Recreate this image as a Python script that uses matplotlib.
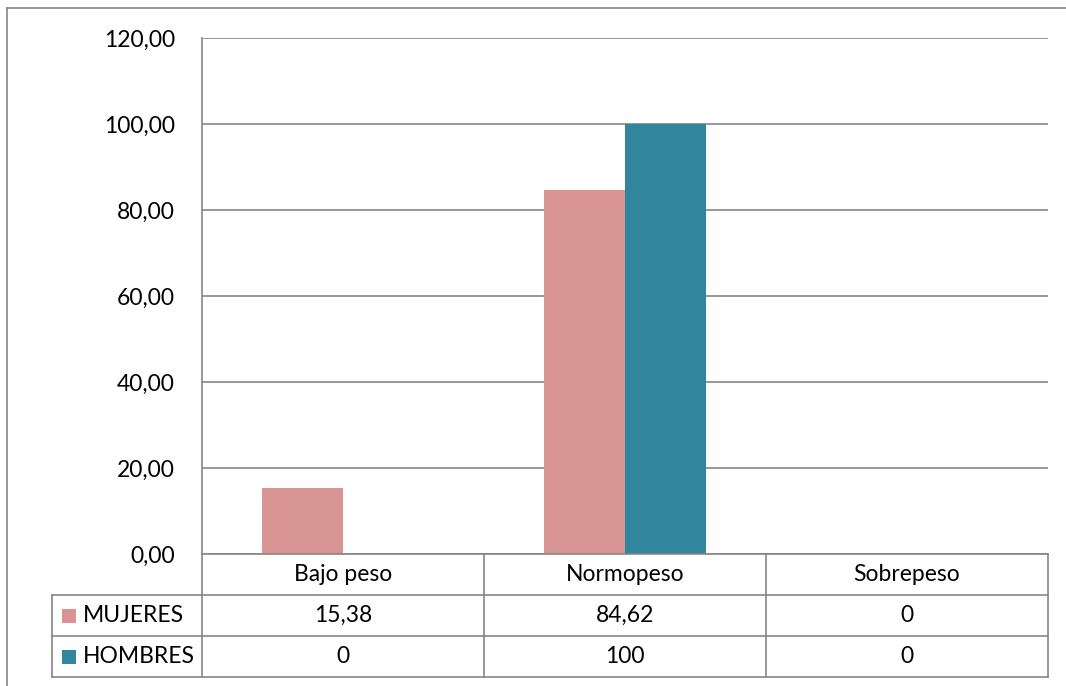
import matplotlib.pyplot as plt
from matplotlib.patches import Rectangle
from matplotlib.lines import Line2D
import matplotlib.transforms as mtransforms

categorias = ['Bajo peso', 'Normopeso', 'Sobrepeso']
mujeres = [15.38, 84.62, 0]
hombres = [0, 100, 0]
mujeres_txt = ['15,38', '84,62', '0']
hombres_txt = ['0', '100', '0']
series = ['MUJERES', 'HOMBRES']
colores = ['#D99594', '#31859C']

plt.rcParams['font.family'] = ['Lato', 'DejaVu Sans']
gris = '#868686'
fs = 16.5

fig = plt.figure(figsize=(10.66, 6.86), dpi=100)
W, H = 1066, 686
ftr = fig.transFigure

# marco exterior del grafico (solo arriba e izquierda se ven)
fig.add_artist(Line2D([7 / W, 1.0], [1 - 8 / H, 1 - 8 / H], transform=ftr, color=gris, linewidth=1.2))
fig.add_artist(Line2D([7 / W, 7 / W], [1 - 8 / H, 0.0], transform=ftr, color=gris, linewidth=1.2))

ax = fig.add_axes([202 / W, 1 - 554 / H, (1048 - 202) / W, (554 - 38) / H])
x = list(range(len(categorias)))
w = 81 / 282
ax.bar([i - w for i in x], mujeres, width=w, align='edge', color=colores[0], zorder=3)
ax.bar(x, hombres, width=w, align='edge', color=colores[1], zorder=3)

ax.set_xlim(-0.5, 2.5)
ax.set_ylim(0, 120)
ax.set_yticks(range(0, 121, 20))
ax.set_yticklabels(['%d,00' % v for v in range(0, 121, 20)], fontsize=fs)
ax.tick_params(axis='y', length=0, pad=19.5)
ax.set_xticks([])
ax.yaxis.grid(True, color=gris, linewidth=1.2, zorder=0)
for s in ['top', 'right', 'bottom']:
    ax.spines[s].set_visible(False)
ax.spines['left'].set_color(gris)
ax.spines['left'].set_linewidth(1.2)

# tabla de datos bajo el eje
tr = mtransforms.blended_transform_factory(ax.transData, fig.transFigure)
fila = 41 / H
y0 = 1 - 554 / H
bordes = [-0.5, 0.5, 1.5, 2.5]
lw = 1.2

fig.add_artist(Line2D([-0.5, 2.5], [y0, y0], transform=tr, color=gris, linewidth=lw))
for k in range(1, 4):
    y = y0 - k * fila
    fig.add_artist(Line2D([52 / W, 1048 / W], [y, y], transform=ftr, color=gris, linewidth=lw))
for b in bordes:
    fig.add_artist(Line2D([b, b], [y0, y0 - 3 * fila], transform=tr, color=gris, linewidth=lw))
fig.add_artist(Line2D([52 / W, 52 / W], [y0 - fila, y0 - 3 * fila], transform=ftr, color=gris, linewidth=lw))

for i, c in enumerate(categorias):
    fig.text(x[i], y0 - 0.5 * fila, c, transform=tr, ha='center', va='center', fontsize=fs)
    fig.text(x[i], y0 - 1.5 * fila, mujeres_txt[i], transform=tr, ha='center', va='center', fontsize=fs)
    fig.text(x[i], y0 - 2.5 * fila, hombres_txt[i], transform=tr, ha='center', va='center', fontsize=fs)

for k, (nombre, col) in enumerate(zip(series, colores)):
    yc = y0 - (1.5 + k) * fila
    fig.patches.append(Rectangle((62 / W, yc - 7 / H), 14 / W, 14 / H, transform=ftr,
                                 facecolor=col, edgecolor='none'))
    fig.text(83 / W, yc, nombre, transform=ftr, ha='left', va='center', fontsize=fs)

fig.savefig('out.png', dpi=100)
